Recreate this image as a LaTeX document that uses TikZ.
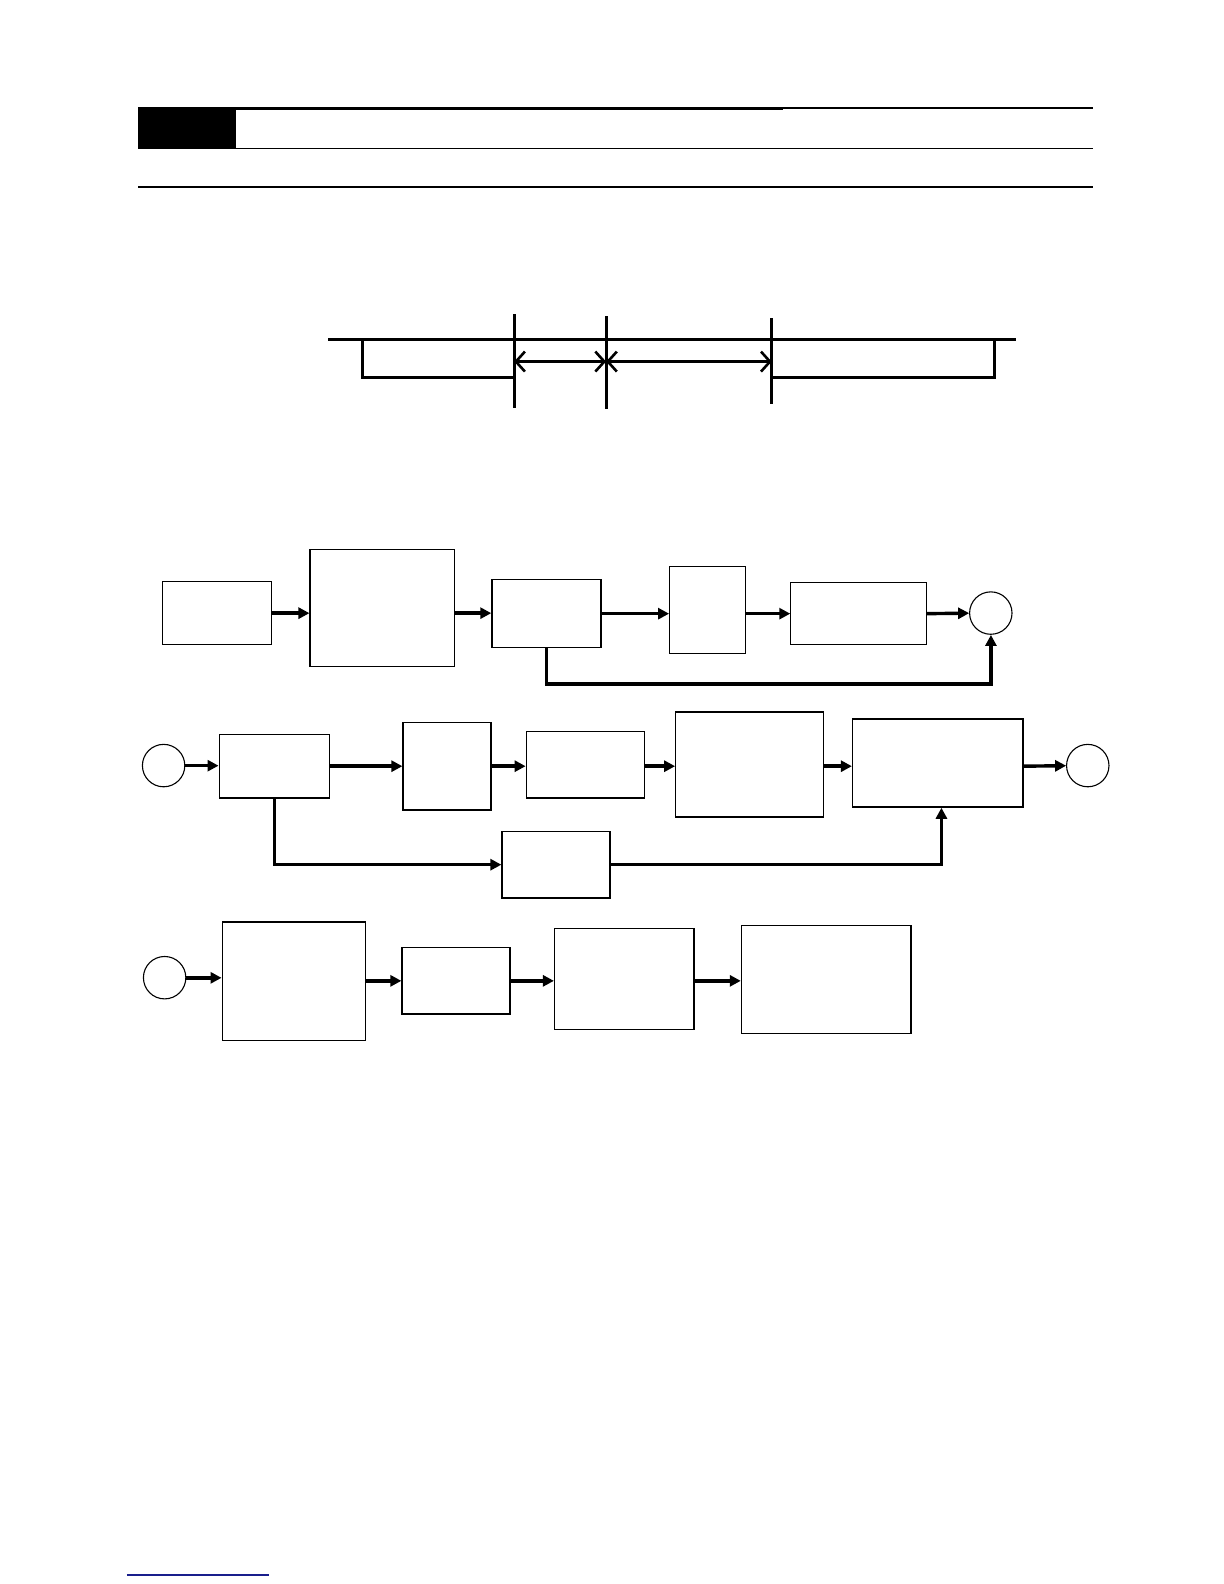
\documentclass[tikz,border=0pt]{standalone}
\usepackage{tikz}
\usetikzlibrary{arrows.meta, positioning, calc}
\definecolor{linkblue}{RGB}{25, 30, 140}

\begin{document}
\begin{tikzpicture}[x=1pt, y=-1pt, scale=1.01, transform shape,
  blk/.style={draw, line width=1.3pt, inner sep=0pt},
  term/.style={circle, draw, line width=1.1pt, inner sep=0pt, minimum size=42pt},
  flow/.style={line width=3.4pt, -{Triangle[length=11pt, width=11pt]}},
  tick/.style={line width=3pt},
  span/.style={line width=2.6pt, {Straight Barb[length=9pt, width=20pt]}-{Straight Barb[length=9pt, width=20pt]}},
]
\useasboundingbox (0,0) rectangle (1211.88,1568.32);

% Header bars
\fill (137,106) rectangle (234,147);
\draw[line width=3pt] (234,107.5) -- (775,107.5);
\draw[line width=1.5pt] (775,107) -- (1082,107);
\draw[line width=1.5pt] (137,147) -- (1082,147);
\draw[line width=1.5pt] (137,185) -- (1082,185);

% Timing chart
\coordinate (ta) at (509,336);
\coordinate (tb) at (600,336);
\coordinate (tc) at (764,336);
\draw[tick] (325,336) -- (1006,336);
\draw[tick] (359,336) -- (359,374) -- (ta |- 0,374);
\draw[tick] (tc |- 0,374) -- (985,374) -- (985,336);
\draw[tick] (509,311) -- (509,404);
\draw[tick] (600,313) -- (600,405);
\draw[tick] (764,315) -- (764,400);
\draw[span] (ta |- 0,358) -- (tb |- 0,358);
\draw[span] (tb |- 0,358) -- (tc |- 0,358);

% Flow, first row
\node[blk, minimum width=108pt, minimum height=62pt] (B1) at (215,607) {};
\node[blk, minimum width=143pt, minimum height=116pt] (B2) at (378.5,602) {};
\node[blk, minimum width=108pt, minimum height=67pt] (B3) at (541,607.5) {};
\node[blk, minimum width=75pt, minimum height=86pt] (B4) at (700.5,604) {};
\node[blk, minimum width=134pt, minimum height=61pt] (B5) at (850,607.5) {};
\node[term] (C1) at (981,607) {};
\coordinate (fb1) at (981,677);
\draw[flow] (B1.east) -- (B1.east -| B2.west);
\draw[flow] (B2.east |- B1.east) -- (B1.east -| B3.west);
\draw[flow] (B3.east) -- (B3.east -| B4.west);
\draw[flow] (B4.east |- B3.east) -- (B3.east -| B5.west);
\draw[flow] (B5.east) -- (C1.west);
\draw[flow] (B3.south) |- (fb1) -- (C1.south);

% Flow, second row
\node[term] (C2) at (162,758) {};
\node[blk, minimum width=109pt, minimum height=63pt] (D1) at (271.5,758.5) {};
\node[blk, minimum width=87pt, minimum height=87pt] (D2) at (442.5,758.5) {};
\node[blk, minimum width=117pt, minimum height=66pt] (D3) at (579.5,757) {};
\node[blk, minimum width=146pt, minimum height=104pt] (D4) at (742,757) {};
\node[blk, minimum width=169pt, minimum height=87pt] (D5) at (928.5,755.5) {};
\node[term] (C3) at (1077,758) {};
\node[blk, minimum width=107pt, minimum height=66pt] (D6) at (550.5,856) {};
\draw[flow] (C2.east) -- (C2.east -| D1.west);
\draw[flow] (D1.east) -- (D1.east -| D2.west);
\draw[flow] (D2.east |- D1.east) -- (D1.east -| D3.west);
\draw[flow] (D3.east |- D1.east) -- (D1.east -| D4.west);
\draw[flow] (D4.east |- D1.east) -- (D1.east -| D5.west);
\draw[flow] (D5.east |- D1.east) -- (C3.west);
\draw[flow] (D1.south) |- (D6.west);
\draw[flow] (D6.east) -| ([xshift=3.5pt]D5.south);

% Flow, third row
\node[term] (C4) at (163,968) {};
\node[blk, minimum width=142pt, minimum height=117pt] (E1) at (291,971.5) {};
\node[blk, minimum width=107pt, minimum height=66pt] (E2) at (451.5,971) {};
\node[blk, minimum width=138pt, minimum height=100pt] (E3) at (618,969) {};
\node[blk, minimum width=168pt, minimum height=107pt] (E4) at (818,969.5) {};
\draw[flow] (C4.east) -- (C4.east -| E1.west);
\draw[flow] (E1.east |- E2.east) -- (E2.west);
\draw[flow] (E2.east) -- (E2.east -| E3.west);
\draw[flow] (E3.east |- E2.east) -- (E2.east -| E4.west);

% Footer rule
\draw[linkblue, line width=1.4pt] (125.7,1559.4) -- (266.3,1559.4);
\end{tikzpicture}
\end{document}
